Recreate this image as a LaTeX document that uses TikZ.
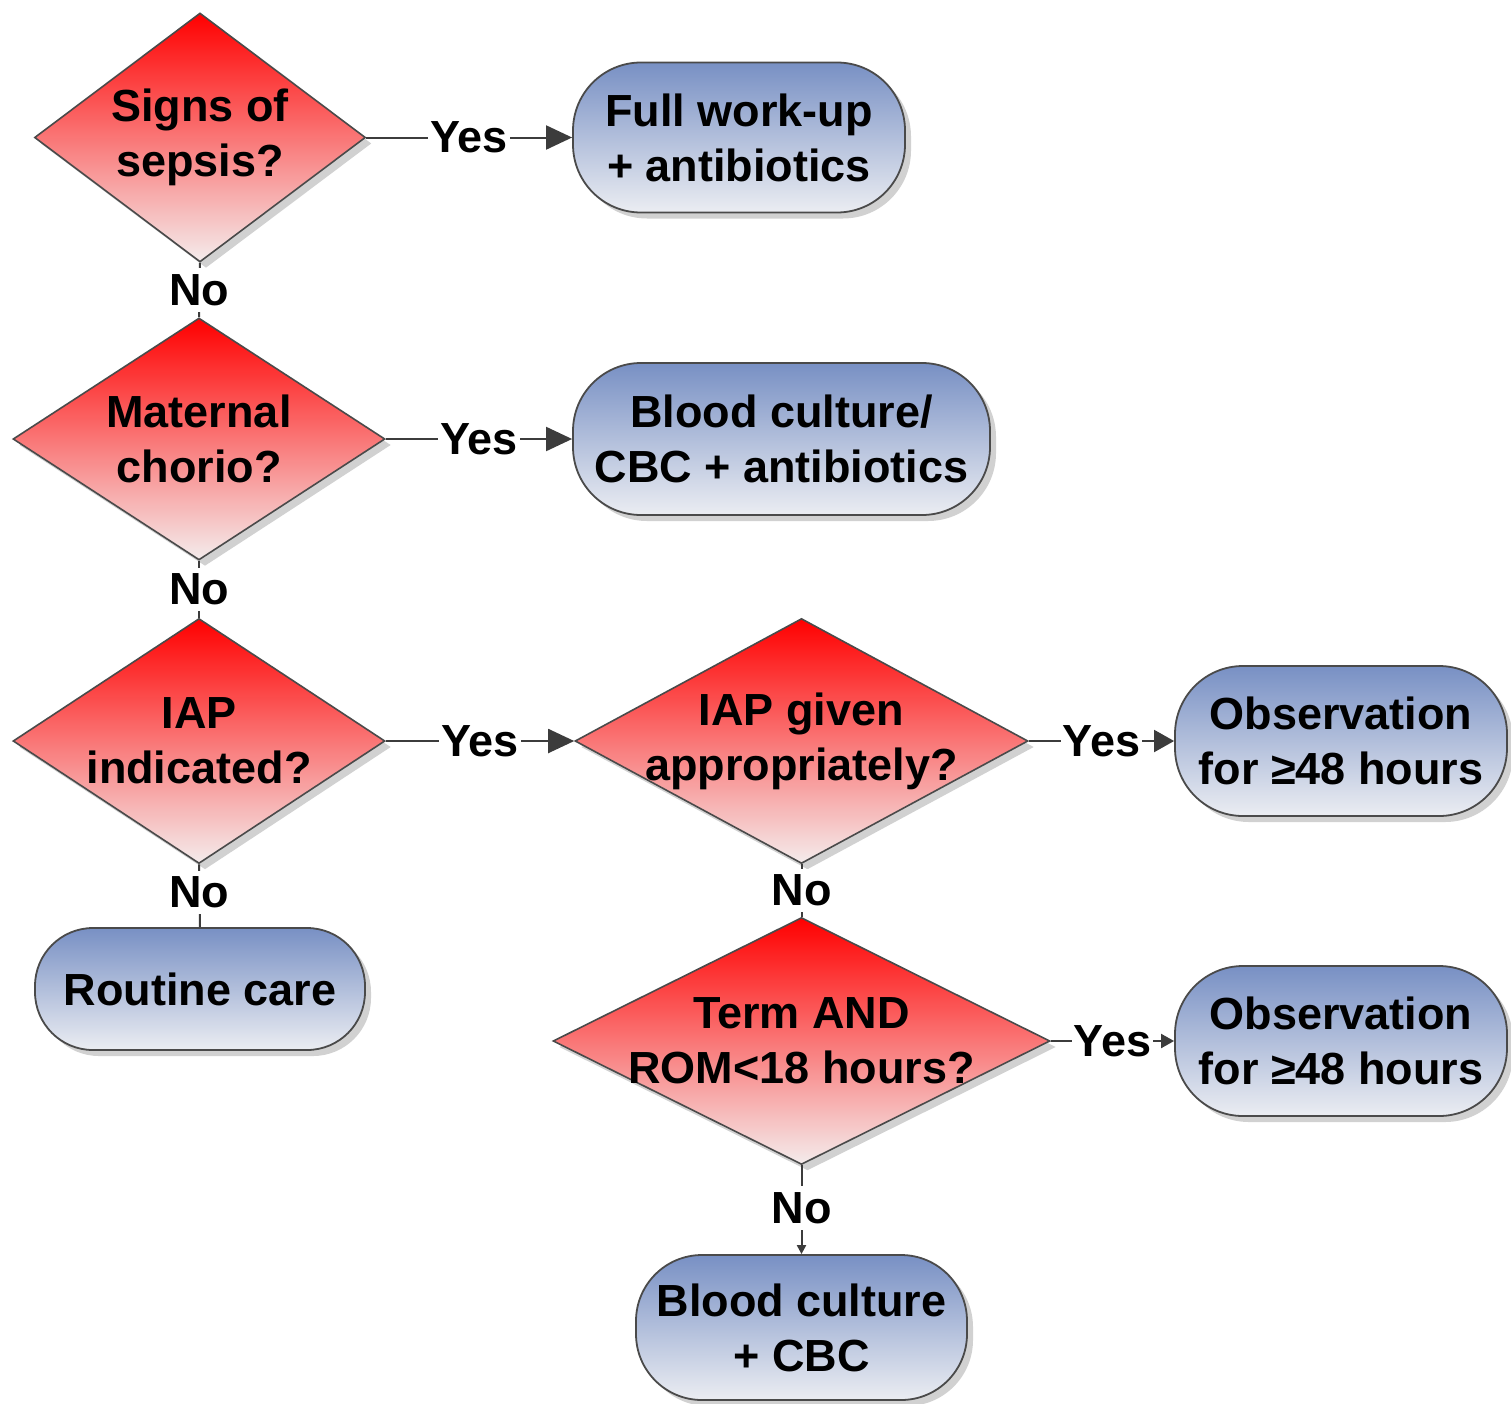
\documentclass[tikz,border=0pt]{standalone}
\usepackage{fontspec}
\setmainfont{Liberation Sans}
\usetikzlibrary{shapes.geometric,arrows.meta,shadows}
\definecolor{edgec}{HTML}{4A4A4A}
\definecolor{linec}{HTML}{3C3C3C}
\definecolor{dtop}{HTML}{FF0000}
\definecolor{dbot}{HTML}{F4ECEC}
\definecolor{btop}{HTML}{7890C4}
\definecolor{bbot}{HTML}{EBEDF2}
\begin{document}
\begin{tikzpicture}[x=1pt,y=-1pt,
  shad/.style={drop shadow={shadow xshift=6pt,shadow yshift=-6pt,fill=black,opacity=0.18}},
  dec/.style={diamond,draw=edgec,line width=1.6pt,top color=dtop,bottom color=dbot,inner sep=0pt,shad},
  term/.style={rectangle,rounded corners=68pt,draw=edgec,line width=1.8pt,top color=btop,bottom color=bbot,inner sep=0pt,shad,
    font=\fontsize{45}{55}\selectfont\bfseries,align=center},
  txt/.style={font=\fontsize{45}{55}\selectfont\bfseries,align=center,inner sep=0pt},
  conn/.style={draw=linec,line width=2pt},
  lab/.style={fill=white,inner xsep=2pt,inner ysep=6pt,font=\fontsize{45}{55}\selectfont\bfseries},
  big/.style={-{Triangle[length=26pt,width=24pt]}},
  mid/.style={-{Triangle[length=20pt,width=22pt]}},
  small/.style={-{Triangle[length=13pt,width=14pt]}},
  tiny/.style={-{Triangle[length=9pt,width=9pt]}}
]
\useasboundingbox (0,0) rectangle (1511,1403);

% decisions
\node[dec,minimum width=331pt,minimum height=249pt] (d1) at (200,137.5) {};
\node[txt] (d1t) at (d1) {Signs of\\sepsis?};
\node[dec,minimum width=372pt,minimum height=242pt] (d2) at (199,439) {};
\node[txt] (d2t) at (d2) {Maternal\\chorio?};
\node[dec,minimum width=372pt,minimum height=245pt] (d3) at (199,741) {};
\node[txt] (d3t) at (d3) {IAP\\indicated?};
\node[dec,minimum width=453pt,minimum height=245pt] (d4) at (801.5,741) {};
\node[txt] (d4t) at (d4) {IAP given\\appropriately?};
\node[dec,minimum width=497pt,minimum height=247pt] (d5) at (801.5,1041) {};
\node[txt] (d5t) at (d5) {Term AND\\ROM<18 hours?};

% terminals
\node[term,minimum width=332pt,minimum height=150pt] (b1) at (739,137.5) {Full work-up\\+ antibiotics};
\node[term,minimum width=417pt,minimum height=152pt] (b2) at (781.5,439) {Blood culture/\\CBC + antibiotics};
\node[term,minimum width=332pt,minimum height=150pt] (o1) at (1341,741) {Observation\\for ≥48 hours};
\node[term,minimum width=332pt,minimum height=150pt] (o2) at (1341,1041) {Observation\\for ≥48 hours};
\node[term,rounded corners=58pt,minimum width=330pt,minimum height=122pt] (rc) at (200,989) {Routine care};
\node[term,rounded corners=66pt,minimum width=331pt,minimum height=145pt] (bc) at (801.5,1327.5) {Blood culture\\+ CBC};

% connectors
\draw[conn,big] (d1.east) -- node[lab] (y1) {Yes} (b1.west);
\draw[conn,big] (d2.east) -- node[lab] (y2) {Yes} (b2.west);
\draw[conn,big] (d3.east) -- node[lab] (y3) {Yes} (d4.west);
\draw[conn,mid] (d4.east) -- node[lab,pos=0.5] (y4) {Yes} (o1.west);
\draw[conn,small] (d5.east) -- node[lab,pos=0.5] (y5) {Yes} (o2.west);

\draw[conn] (d1.south) -- node[lab] (n1) {No} (d2.north);
\draw[conn] (d2.south) -- node[lab] (n2) {No} (d3.north);
\draw[conn] (d3.south) -- node[lab,pos=0.45] (n3) {No} (rc.north);
\draw[conn] (d4.south) -- node[lab] (n4) {No} (d5.north);
\draw[conn,tiny] (d5.south) -- node[lab,pos=0.48] (n5) {No} (bc.north);
\end{tikzpicture}
\end{document}
